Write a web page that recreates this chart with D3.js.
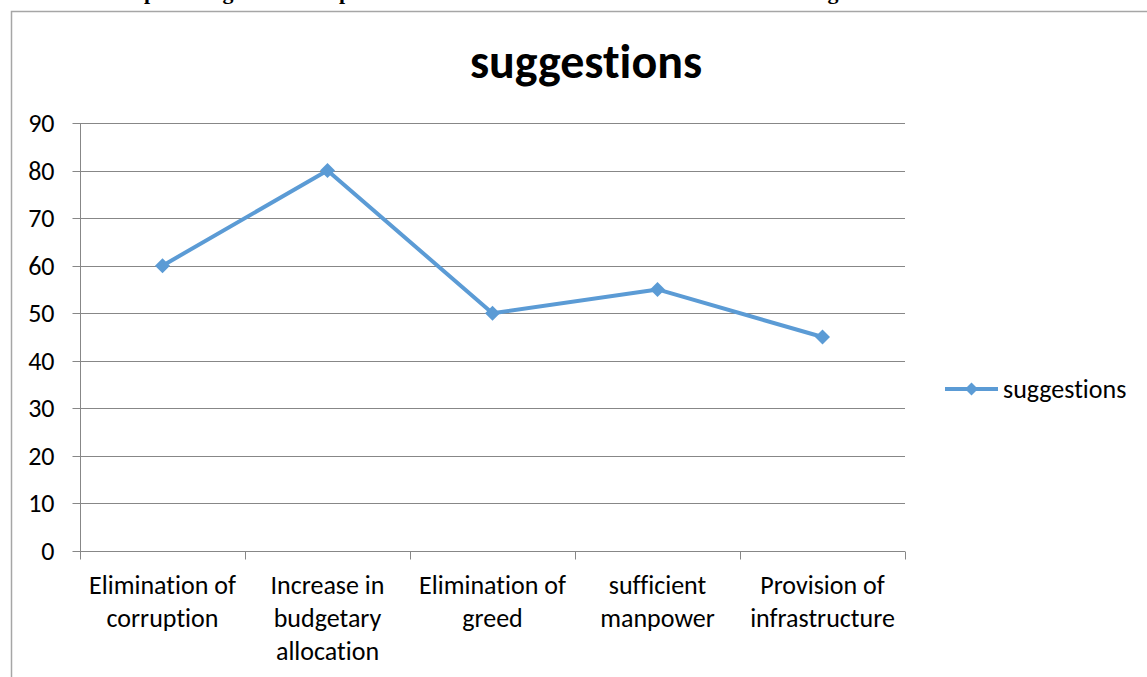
<!DOCTYPE html>
<html><head><meta charset="utf-8">
<script src="https://cdn.jsdelivr.net/npm/d3@7"></script>
<style>body{margin:0;background:#fff}svg{display:block}text{font-variant-ligatures:none;font-feature-settings:"liga" 0,"clig" 0}</style>
</head><body>
<svg id="c" width="1147" height="677"></svg>
<script>
const categories = [["Elimination of","corruption"],["Increase in","budgetary","allocation"],["Elimination of","greed"],["sufficient","manpower"],["Provision of","infrastructure"]];
const values = [60, 80, 50, 55, 45];
const yTicks = [0,10,20,30,40,50,60,70,80,90];
const seriesName = "suggestions";
const chartTitle = "suggestions";

const svg = d3.select("#c");
const font = "Carlito, Lato, 'Liberation Sans', sans-serif";
const grid = "#878787";
const blue = "#5B9BD5";

// cut-off heading descenders above the chart
const headFrag = [{t:"p",x:150},{t:"g",x:228},{t:"p",x:345},{t:"g",x:833}];
svg.selectAll("text.hf").data(headFrag).enter().append("text")
  .attr("x",d=>d.x).attr("y",-1).attr("text-anchor","middle")
  .attr("font-family","'Liberation Serif', serif").attr("font-weight","bold")
  .attr("font-size",22).text(d=>d.t);

// chart frame
svg.append("path").attr("d","M11.5,677 L11.5,11.5 L1147,11.5")
  .attr("fill","none").attr("stroke","#a6a6a6").attr("stroke-width",1.5);

const x = d3.scaleBand().domain(d3.range(categories.length)).range([80,905]);
const y = d3.scaleLinear().domain([0,90]).range([551,123]);

// gridlines
svg.selectAll("line.g").data(yTicks.slice(1)).enter().append("line")
  .attr("x1",80).attr("x2",905).attr("y1",d=>Math.round(y(d))+0.5).attr("y2",d=>Math.round(y(d))+0.5)
  .attr("stroke",grid).attr("stroke-width",1);

// y axis
const ya = svg.append("g").attr("transform","translate(80.5,0)")
  .call(d3.axisLeft(y).tickValues(yTicks).tickSize(8).tickPadding(18));
ya.select(".domain").attr("stroke",grid).attr("d","M0,"+y(90)+"V"+(y(0)+0.5));
ya.selectAll(".tick line").attr("stroke",grid);
ya.selectAll(".tick text").attr("font-family",font).attr("font-size",26).attr("fill","#000").attr("dy","0.33em");
ya.selectAll(".tick").attr("transform",d=>"translate(0,"+(Math.round(y(d))+0.5)+")");

// x axis
const xa = svg.append("g").attr("transform","translate(0,"+(Math.round(y(0))+0.5)+")");
xa.append("line").attr("x1",80).attr("x2",905).attr("stroke",grid);
const edges = d3.range(categories.length+1).map(i=> i<categories.length ? x(i) : x(i-1)+x.bandwidth());
xa.selectAll("line.t").data(edges).enter().append("line")
  .attr("x1",d=>Math.round(d)+0.5).attr("x2",d=>Math.round(d)+0.5).attr("y1",0).attr("y2",8).attr("stroke",grid);
const lab = svg.append("g");
categories.forEach((c,i)=>{
  const t = lab.append("text").attr("x",x(i)+x.bandwidth()/2).attr("y",594)
    .attr("text-anchor","middle").attr("font-family",font).attr("font-size",26).attr("fill","#000");
  c.forEach((line,j)=>t.append("tspan").attr("x",x(i)+x.bandwidth()/2).attr("dy",j?33:0).text(line));
});

// line
const cx = i=>x(i)+x.bandwidth()/2;
svg.append("path").datum(values)
  .attr("d",d3.line().x((d,i)=>cx(i)).y(d=>y(d)))
  .attr("fill","none").attr("stroke",blue).attr("stroke-width",4).attr("stroke-linejoin","round");
svg.selectAll("path.m").data(values).enter().append("path")
  .attr("d","M0,-7.5L7.5,0L0,7.5L-7.5,0Z")
  .attr("transform",(d,i)=>"translate("+cx(i)+","+y(d)+")").attr("fill",blue);

// title
svg.append("text").attr("x",586).attr("y",78).attr("text-anchor","middle")
  .attr("font-family",font).attr("font-weight","bold").attr("font-size",48).attr("fill","#000").text(chartTitle);

// legend
const lg = svg.append("g").attr("transform","translate(945,389)");
lg.append("line").attr("x1",0).attr("x2",53).attr("stroke",blue).attr("stroke-width",4);
lg.append("path").attr("d","M0,-6.5L6.5,0L0,6.5L-6.5,0Z").attr("transform","translate(26.5,0)").attr("fill",blue);
lg.append("text").attr("x",58).attr("y",0).attr("dy","0.33em").attr("font-family",font).attr("font-size",26).attr("fill","#000").text(seriesName);
</script>
</body></html>
